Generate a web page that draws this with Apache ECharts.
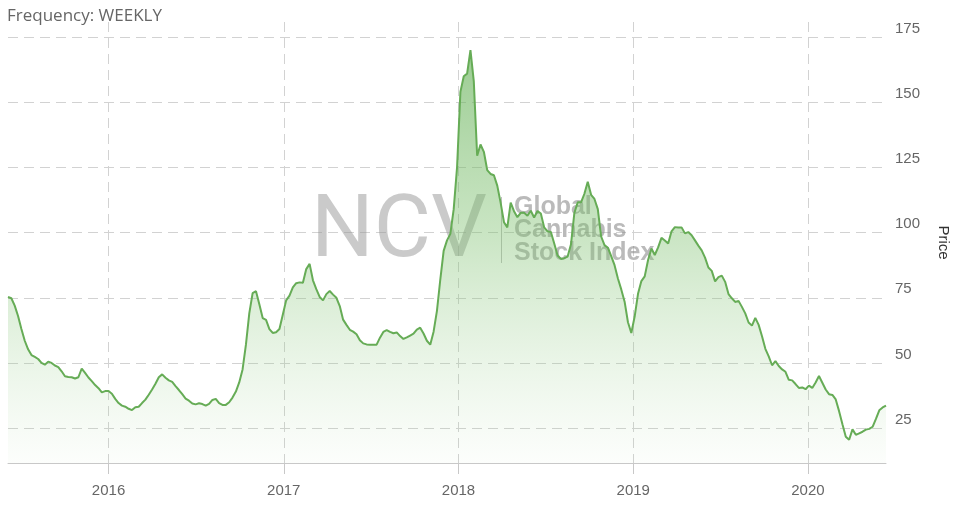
<!DOCTYPE html>
<html>
<head>
<meta charset="utf-8">
<script src="https://cdn.jsdelivr.net/npm/echarts@6/dist/echarts.min.js"></script>
<style>
html,body{margin:0;padding:0;background:#fff;}
#chart{width:958px;height:506px;}
</style>
</head>
<body>
<div id="chart"></div>
<script>
// Weekly series start (first weekly observation) and weekly index values
const startDate = '2015-06-05';
const priceValues = [
75.3,74.8,72,68,63,58.5,55.2,53,52.3,51.5,
50,49.3,50.5,50,49,48.4,46.8,44.9,44.6,44.5,
44,44.5,47.8,46.2,44.4,43,41.5,40.3,38.7,39.2,
39.2,38.2,36.2,34.6,33.6,33.2,32.4,31.9,33,33.2,
34.6,35.9,37.8,39.8,42,44.5,45.6,44.3,43.3,42.7,
41.1,39.6,38,36.3,35.5,34.4,34.1,34.5,34.2,33.6,
34.3,35.8,36.2,34.6,33.9,33.9,34.9,36.7,39,42.5,
47.5,57,69,76.8,77.5,72.5,67.2,66.5,63,61.5,
61.8,63,68.5,74,75.8,79,80.6,80.9,80.8,86,
88,81.7,78.3,75.3,74,76.4,77.6,76.2,75,71.8,
66.6,64.6,62.7,62,61,58.7,57.5,57.1,57,57,
57,59.7,61.9,62.6,61.9,61.4,61.7,60.3,59.2,59.8,
60.5,61.2,62.8,63.5,61.3,58.5,57,62,70,82,
93,97,99.5,109,125,154,160,161,170,158,
129.5,133.8,131,124,122.5,122,118,111.5,104,102,
111.5,108.2,105.9,107.6,107.6,106.5,108.4,105.8,108.3,107.3,
102,100.5,100.2,95.8,91.2,89.9,90.2,90.8,95.5,107.5,
111.6,111.6,114.9,119.5,114.5,112.9,109,98.5,95.2,94.2,
91,87.5,82.4,78.2,73.5,65.6,61.5,67.8,76.5,81.4,
83.2,89.5,93.9,91.4,94.3,98,97,95.8,100.5,102.1,
102,102,99.7,100.2,99,97,95,93.2,90.4,86.6,
85.3,81.3,82.9,83.5,81.1,76.4,74.8,73.4,73.8,71.5,
69,65.5,64.3,67.3,64.6,60.2,55.4,52.5,49.1,50.7,
48.8,47.5,46.6,43.5,43.3,41.9,40.4,40.6,39.9,41.3,
40.4,42.5,45,42.4,39.8,38,37.7,36,31.5,26.5,
21.7,20.5,24.5,22.4,23,23.6,24.4,24.7,25.5,28.5,
31.8,32.9,33.6
];
const yearTicks = ['2016-01-01','2017-01-01','2018-01-01','2019-01-01','2020-01-01'];
const priceTicks = [25,50,75,100,125,150,175];

const DAY = 86400000;
const t0 = Date.parse(startDate + 'T00:00:00Z');
const seriesData = priceValues.map((v, i) => [t0 + i * 7 * DAY, v]);
const yearTickTimes = yearTicks.map(d => Date.parse(d + 'T00:00:00Z'));

const chart = echarts.init(document.getElementById('chart'), null, {renderer: 'canvas'});
const gridColor = '#d2d2d2';
chart.setOption({
  animation: false,
  backgroundColor: '#ffffff',
  title: {
    text: 'Frequency: WEEKLY',
    left: 7, top: 8, padding: 0,
    textStyle: {fontFamily: 'Open Sans', fontSize: 17, fontWeight: 'normal', color: '#666666'}
  },
  grid: {left: 8, right: 72, top: 22, bottom: 43, containLabel: false, outerBoundsMode: 'none'},
  xAxis: {
    type: 'value',
    min: seriesData[0][0],
    max: seriesData[seriesData.length - 1][0],
    axisLine: {show: true, lineStyle: {color: '#c8c8c8', width: 1}},
    axisTick: {show: true, length: 11, customValues: yearTickTimes, lineStyle: {color: '#c8c8c8'}},
    axisLabel: {
      customValues: yearTickTimes,
      margin: 20,
      color: '#666666',
      fontFamily: 'Liberation Sans',
      fontSize: 15,
      formatter: v => String(new Date(v).getUTCFullYear())
    },
    splitLine: {show: true, lineStyle: {color: gridColor, type: [10, 6], width: 1}}
  },
  yAxis: {
    type: 'value',
    position: 'right',
    min: 11.6,
    max: 180.8,
    name: 'Price',
    nameLocation: 'middle',
    nameRotate: -90,
    nameGap: 50,
    nameTextStyle: {fontFamily: 'Liberation Sans', fontSize: 15, color: '#333333'},
    axisLine: {show: false},
    axisTick: {show: false, customValues: priceTicks},
    axisLabel: {
      customValues: priceTicks,
      margin: 9,
      color: '#666666',
      fontFamily: 'Liberation Sans',
      fontSize: 15,
      verticalAlign: 'bottom',
      padding: [0, 0, 1, 0]
    },
    splitLine: {show: true, lineStyle: {color: gridColor, type: [10, 6], width: 1}}
  },
  graphic: [
    {type: 'text', left: 311, top: 190, z: 1, silent: true,
     style: {text: 'NCV', font: '400 88px Roboto, sans-serif', fill: 'rgba(150,150,150,0.5)'}},
    {type: 'rect', shape: {x: 501, y: 197, width: 1, height: 66}, z: 1, silent: true,
     style: {fill: 'rgba(140,140,140,0.55)'}},
    {type: 'text', left: 514, top: 195, z: 1, silent: true,
     style: {text: 'Global\nCannabis\nStock Index', font: 'bold 25px "Liberation Sans", sans-serif',
             lineHeight: 23, fill: 'rgba(140,140,140,0.6)'}}
  ],
  series: [{
    type: 'line',
    data: seriesData,
    showSymbol: false,
    symbol: 'none',
    z: 2,
    lineStyle: {color: '#66ac56', width: 2},
    areaStyle: {
      color: new echarts.graphic.LinearGradient(0, 0, 0, 1, [
        {offset: 0, color: 'rgba(100,176,86,0.92)'},
        {offset: 0.45, color: 'rgba(125,192,110,0.58)'},
        {offset: 1, color: 'rgba(170,215,160,0.05)'}
      ])
    }
  }]
});
</script>
</body>
</html>
